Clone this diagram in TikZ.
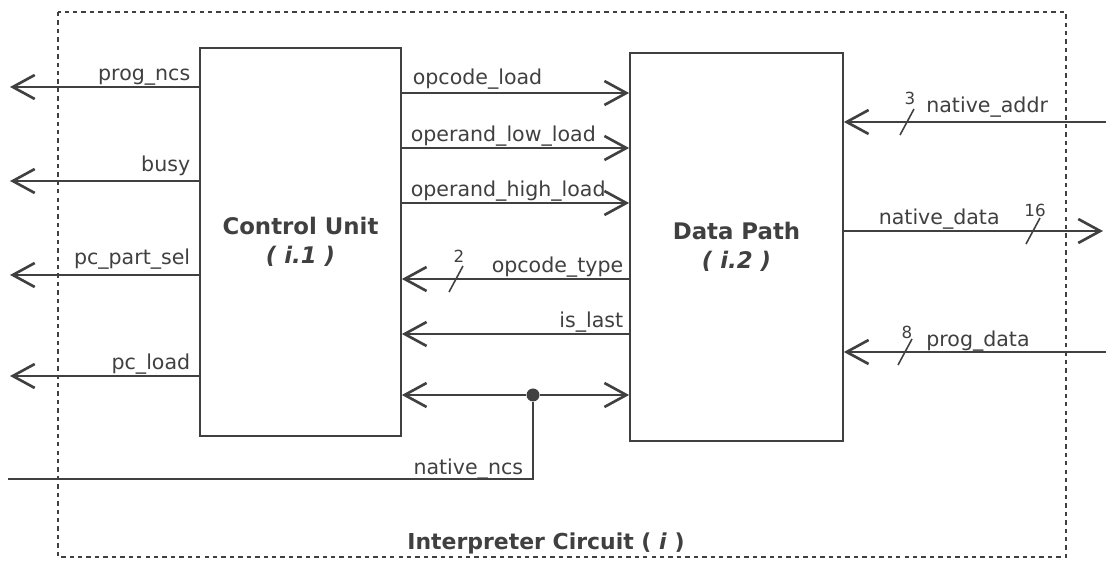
\documentclass[tikz,border=0pt]{standalone}
\usepackage{fontspec}
\setmainfont{DejaVu Sans}
\usepackage{tikz}
\usetikzlibrary{arrows.meta, calc}
\usepackage{xcolor}
\definecolor{wire}{HTML}{404040}

\tikzset{
  block/.style={draw=wire, line width=1pt, align=center, text=wire,
    font=\fontsize{13}{16.5}\selectfont\bfseries},
  sig/.style={draw=wire, line width=1.1pt,
    -{Straight Barb[length=4.4mm, width=4.8mm, line width=1.5pt]}},
  plain/.style={draw=wire, line width=1.1pt},
  lbl/.style={text=wire, inner sep=0pt, font=\fontsize{11.7}{14}\selectfont},
  busnum/.style={text=wire, inner sep=0pt, font=\fontsize{9.5}{11}\selectfont},
  slashln/.style={draw=wire, line width=0.9pt},
  frame/.style={draw=wire, line width=1pt, dash pattern=on 2.5pt off 2.3pt}
}

\begin{document}
\begin{tikzpicture}[x=0.02cm, y=-0.02cm]
        \useasboundingbox (0,0) rectangle (1106,563);
        % Outer frame and title
        \draw [frame] (58,12) rectangle (1066,557);
        \node [text=wire, inner sep=0pt, anchor=base, font=\fontsize{12.5}{15}\selectfont\bfseries] (ic_title) at (546,550) {Interpreter Circuit ( \textit{i} )};
        % Blocks
        \node [block, minimum width=4.02cm, minimum height=7.76cm] (cu) at (300.5,242) {Control Unit\\\textit{( i.1 )}};
        \node [block, minimum width=4.26cm, minimum height=7.76cm] (dp) at (736.5,247) {Data Path\\\textit{( i.2 )}};
        % Free ends
        \coordinate (prog_ncs) at (10,87);
        \coordinate (busy) at (10,181);
        \coordinate (pc_part_sel) at (10,275);
        \coordinate (pc_load) at (10,376);
        \coordinate (native_ncs) at (8,479);
        \coordinate (native_addr) at (1106,122);
        \coordinate (native_data) at (1103,231);
        \coordinate (prog_data) at (1106,352);
        % Control unit outputs
        \draw [sig] (cu.west |- prog_ncs) -- node [lbl, pos=0, anchor=base east, shift={(-8,-6)}] {prog\_ncs} (prog_ncs);
        \draw [sig] (cu.west |- busy) -- node [lbl, pos=0, anchor=base east, shift={(-8,-9)}] {busy} (busy);
        \draw [sig] (cu.west |- pc_part_sel) -- node [lbl, pos=0, anchor=base east, shift={(-8,-10)}] {pc\_part\_sel} (pc_part_sel);
        \draw [sig] (cu.west |- pc_load) -- node [lbl, pos=0, anchor=base east, shift={(-8,-6)}] {pc\_load} (pc_load);
        % Between the blocks
        \draw [sig] (cu.east |- 0,93) -- node [lbl, pos=0, anchor=base west, shift={(10,-8)}] {opcode\_load} (dp.west |- 0,93);
        \draw [sig] (cu.east |- 0,148) -- node [lbl, pos=0, anchor=base west, shift={(8,-6)}] {operand\_low\_load} (dp.west |- 0,148);
        \draw [sig] (cu.east |- 0,203) -- node [lbl, pos=0, anchor=base west, shift={(8,-6)}] {operand\_high\_load} (dp.west |- 0,203);
        \draw [sig] (dp.west |- 0,279) -- node [lbl, pos=0, anchor=base east, shift={(-5,-6)}] {opcode\_type} (cu.east |- 0,279);
        \draw [sig] (dp.west |- 0,334) -- node [lbl, pos=0, anchor=base east, shift={(-5,-6)}] {is\_last} (cu.east |- 0,334);
        % native_ncs
        \node [circle, fill=wire, inner sep=0pt, minimum size=0.26cm] (ncs_dot) at (533,395) {};
        \draw [sig] (ncs_dot) -- (cu.east |- ncs_dot);
        \draw [sig] (ncs_dot) -- (dp.west |- ncs_dot);
        \draw [plain] (native_ncs) -| node [lbl, pos=0.5, anchor=base east, shift={(-9,-4)}] {native\_ncs} (ncs_dot);
        % Data path ports
        \draw [sig] (native_addr) -- (dp.east |- native_addr);
        \node [lbl, anchor=base west] at ($(native_addr)+(-180,-9)$) {native\_addr};
        \draw [sig] (dp.east |- native_data) -- node [lbl, pos=0, anchor=base west, shift={(34,-6)}] {native\_data} (native_data);
        \draw [sig] (prog_data) -- (dp.east |- prog_data);
        \node [lbl, anchor=base west] at ($(prog_data)+(-180,-5)$) {prog\_data};
        % Bus widths
        \coordinate (s_type) at (456,279);
        \coordinate (s_addr) at (907,122);
        \coordinate (s_data) at (1033,231);
        \coordinate (s_prog) at (905,352);
        \draw [slashln] ([shift={(-7,13)}]s_type) -- ([shift={(7,-13)}]s_type);
        \draw [slashln] ([shift={(-7,13)}]s_addr) -- ([shift={(7,-13)}]s_addr);
        \draw [slashln] ([shift={(-7,13)}]s_data) -- ([shift={(7,-13)}]s_data);
        \draw [slashln] ([shift={(-7,13)}]s_prog) -- ([shift={(7,-13)}]s_prog);
        \node [busnum, anchor=base] at ([shift={(3,-16)}]s_type) {2};
        \node [busnum, anchor=base] at ([shift={(3,-17)}]s_addr) {3};
        \node [busnum, anchor=base] at ([shift={(2,-14)}]s_data) {16};
        \node [busnum, anchor=base] at ([shift={(2,-13)}]s_prog) {8};
    \end{tikzpicture}
\end{document}
